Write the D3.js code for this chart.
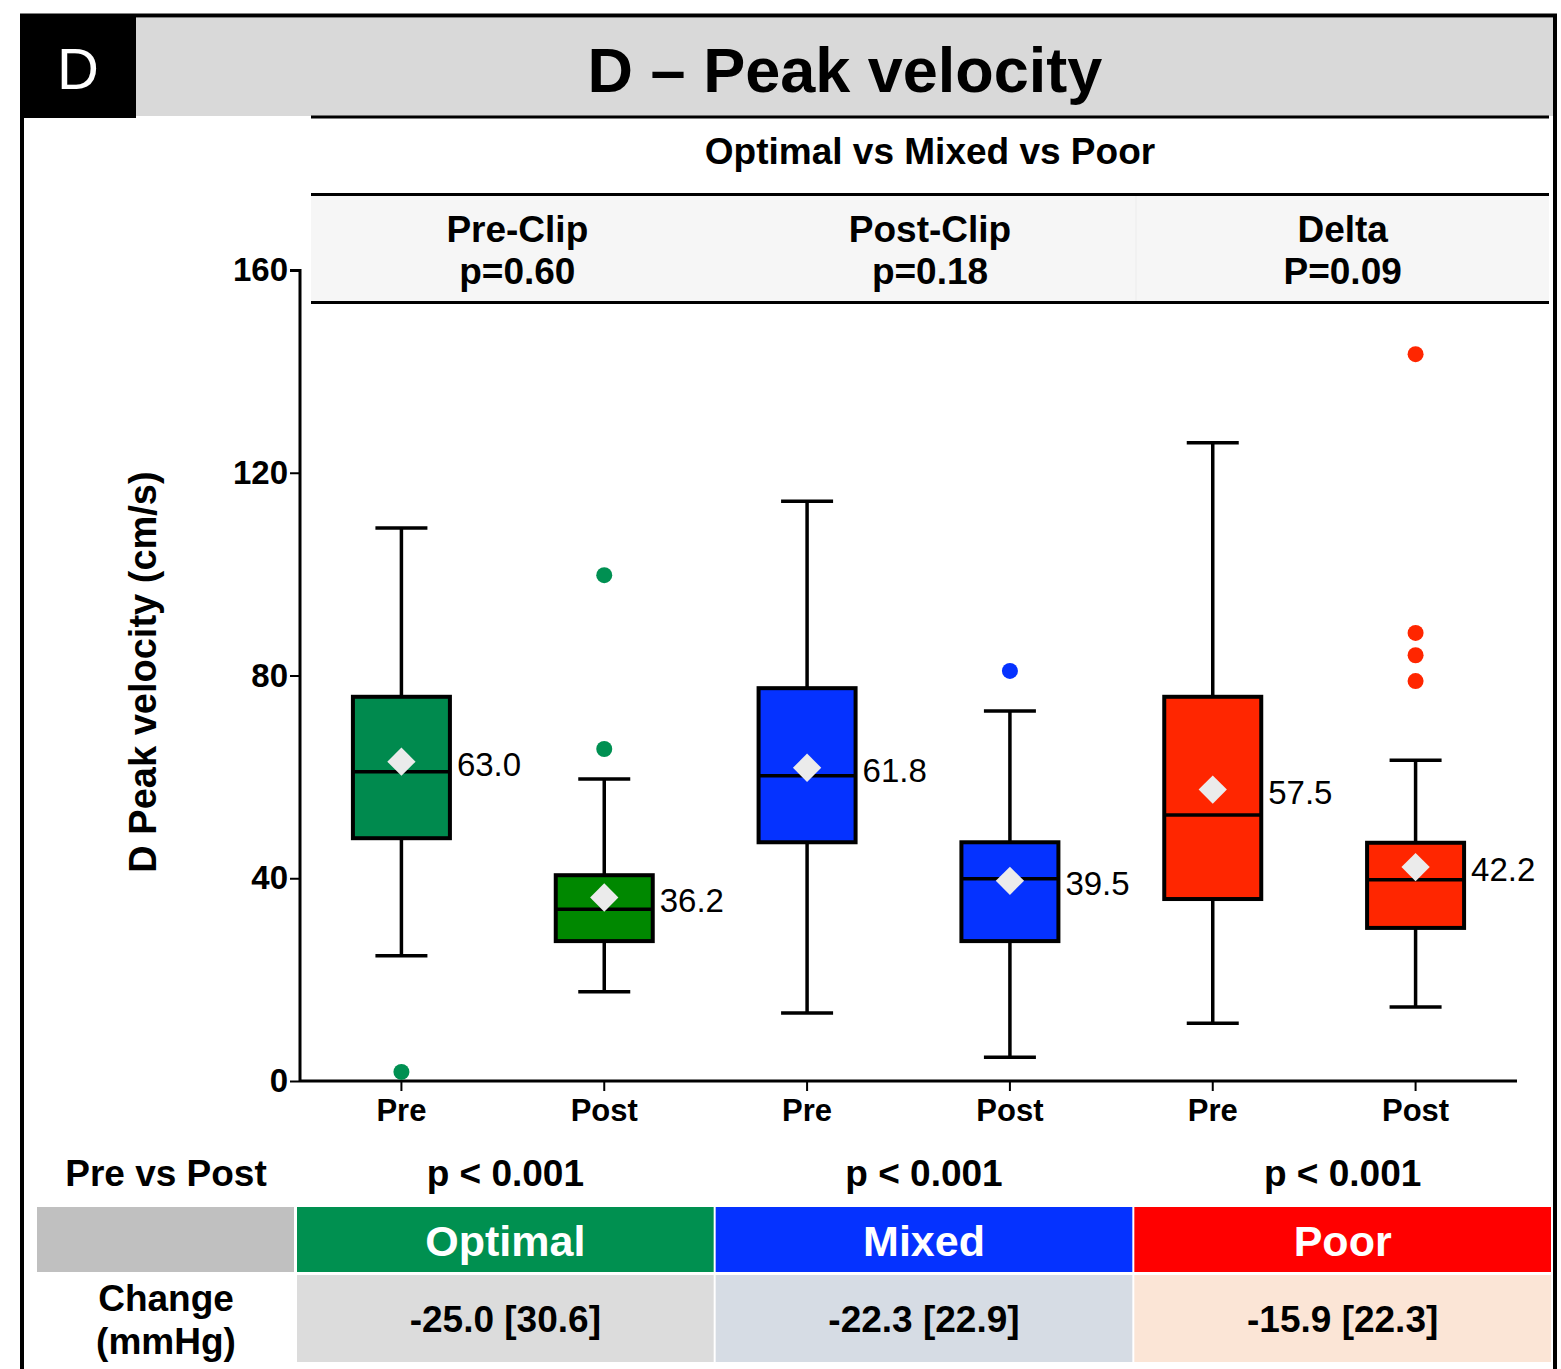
<!DOCTYPE html>
<html><head><meta charset="utf-8">
<script src="https://cdn.jsdelivr.net/npm/d3@7"></script>
<style>body{margin:0;background:#fff}svg{display:block}text{font-family:"Liberation Sans",Arial,sans-serif}</style>
</head><body>
<svg id="c" width="1561" height="1369"></svg>
<script>
const categories = ["OptPre","OptPost","MixPre","MixPost","PoorPre","PoorPost"];
const xLabels = ["Pre","Post","Pre","Post","Pre","Post"];
const whiskerLow = [24.7,17.6,13.4,4.7,11.4,14.6];
const q1 = [47.9,27.6,47.1,27.6,35.9,30.2];
const median = [61.0,33.9,60.2,39.9,52.5,39.7];
const q3 = [75.8,40.6,77.5,47.1,75.8,47.0];
const whiskerHigh = [109.1,59.6,114.4,73.0,125.9,63.3];
const means = [63.0,36.2,61.8,39.5,57.5,42.2];
const outliers = [[1.8],[99.8,65.5],[],[80.9],[],[143.4,88.4,84.0,78.9]];
const boxColors = ["#008a4e","#008800","#0532ff","#0532ff","#ff2600","#ff2600"];
const dotColors = ["#009052","#009052","#0532ff","#0532ff","#ff2600","#ff2600"];
const yTicks = [0,40,80,120,160];
const groupHeads = ["Pre-Clip","Post-Clip","Delta"];
const groupP = ["p=0.60","p=0.18","P=0.09"];
const prePostP = ["p < 0.001","p < 0.001","p < 0.001"];
const groups = ["Optimal","Mixed","Poor"];
const groupColors = ["#009050","#0532ff","#ff0000"];
const changeVals = ["-25.0 [30.6]","-22.3 [22.9]","-15.9 [22.3]"];
const changeBg = ["#dcdcdc","#d6dce4","#fbe5d6"];

const svg = d3.select("#c");
const F = '"Liberation Sans",Arial,sans-serif';

// frame
svg.append("rect").attr("x",136).attr("y",18).attr("width",1418).attr("height",98).attr("fill","#d9d9d9");
svg.append("rect").attr("x",20).attr("y",14).attr("width",116).attr("height",104).attr("fill","#000");
svg.append("line").attr("x1",20).attr("x2",1557).attr("y1",15.5).attr("y2",15.5).attr("stroke","#000").attr("stroke-width",4);
svg.append("line").attr("x1",22).attr("x2",22).attr("y1",14).attr("y2",1369).attr("stroke","#000").attr("stroke-width",4);
svg.append("line").attr("x1",1555).attr("x2",1555).attr("y1",14).attr("y2",1369).attr("stroke","#000").attr("stroke-width",4);
svg.append("text").attr("x",78).attr("y",89).attr("text-anchor","middle").attr("fill","#fff").attr("font-size",58).text("D");
svg.append("text").attr("x",845).attr("y",92).attr("text-anchor","middle").attr("font-weight","bold").attr("font-size",63).text("D \u2013 Peak velocity");

// header bands
svg.append("line").attr("x1",311).attr("x2",1549).attr("y1",117).attr("y2",117).attr("stroke","#000").attr("stroke-width",3);
svg.append("text").attr("x",930).attr("y",164).attr("text-anchor","middle").attr("font-weight","bold").attr("font-size",37).text("Optimal vs Mixed vs Poor");
svg.append("rect").attr("x",311).attr("y",195).attr("width",1238).attr("height",107).attr("fill","#f6f6f6");
svg.append("line").attr("x1",1136).attr("x2",1136).attr("y1",195).attr("y2",302).attr("stroke","#ececec").attr("stroke-width",1);
svg.append("line").attr("x1",311).attr("x2",1549).attr("y1",194.5).attr("y2",194.5).attr("stroke","#000").attr("stroke-width",3);
svg.append("line").attr("x1",311).attr("x2",1549).attr("y1",302.5).attr("y2",302.5).attr("stroke","#000").attr("stroke-width",3);
const hx = d3.scaleBand().domain(groupHeads).range([311,1549]);
groupHeads.forEach((g,i)=>{
  const cx = hx(g)+hx.bandwidth()/2;
  svg.append("text").attr("x",cx).attr("y",242).attr("text-anchor","middle").attr("font-weight","bold").attr("font-size",37).text(g);
  svg.append("text").attr("x",cx).attr("y",284).attr("text-anchor","middle").attr("font-weight","bold").attr("font-size",37).text(groupP[i]);
});

// scales
const y = d3.scaleLinear().domain([0,160]).range([1081,270]);
const x = d3.scaleBand().domain(categories).range([300,1517]);
const cx = c => x(c)+x.bandwidth()/2;

const yAxis = svg.append("g").attr("transform","translate(300,0)")
  .call(d3.axisLeft(y).tickValues(yTicks).tickSize(10).tickPadding(2));
yAxis.select(".domain").attr("stroke-width",3).attr("d","M-10,270.5H0V1081");
yAxis.selectAll(".tick line").attr("stroke-width",2);
yAxis.selectAll(".tick text").attr("font-family",F).attr("font-weight","bold").attr("font-size",33).attr("fill","#000");

const xAxis = svg.append("g").attr("transform","translate(0,1081)")
  .call(d3.axisBottom(x).tickSize(10).tickPadding(8).tickFormat((d,i)=>xLabels[i]));
xAxis.select(".domain").attr("stroke-width",3).attr("d","M300,0H1517");
xAxis.selectAll(".tick line").attr("stroke-width",2);
xAxis.selectAll(".tick text").attr("font-family",F).attr("font-weight","bold").attr("font-size",31).attr("fill","#000");

svg.append("text").attr("transform","translate(156,672) rotate(-90)").attr("text-anchor","middle")
  .attr("font-weight","bold").attr("font-size",38).text("D Peak velocity (cm/s)");

// boxes
const bw = 97, cap = 52;
categories.forEach((c,i)=>{
  const g = svg.append("g");
  const X = cx(c);
  g.append("line").attr("x1",X).attr("x2",X).attr("y1",y(whiskerHigh[i])).attr("y2",y(q3[i])).attr("stroke","#000").attr("stroke-width",3.5);
  g.append("line").attr("x1",X).attr("x2",X).attr("y1",y(q1[i])).attr("y2",y(whiskerLow[i])).attr("stroke","#000").attr("stroke-width",3.5);
  g.append("line").attr("x1",X-cap/2).attr("x2",X+cap/2).attr("y1",y(whiskerHigh[i])).attr("y2",y(whiskerHigh[i])).attr("stroke","#000").attr("stroke-width",3.5);
  g.append("line").attr("x1",X-cap/2).attr("x2",X+cap/2).attr("y1",y(whiskerLow[i])).attr("y2",y(whiskerLow[i])).attr("stroke","#000").attr("stroke-width",3.5);
  g.append("rect").attr("x",X-bw/2).attr("y",y(q3[i])).attr("width",bw).attr("height",y(q1[i])-y(q3[i]))
    .attr("fill",boxColors[i]).attr("stroke","#000").attr("stroke-width",4);
  g.append("line").attr("x1",X-bw/2).attr("x2",X+bw/2).attr("y1",y(median[i])).attr("y2",y(median[i])).attr("stroke","#000").attr("stroke-width",3.5);
  g.append("path").attr("d",d3.symbol(d3.symbolSquare, 400)())
    .attr("transform",`translate(${X},${y(means[i])}) rotate(45)`).attr("fill","#ebebeb");
  g.append("text").attr("x",X+bw/2+7).attr("y",y(means[i])+14).attr("font-size",33).text(means[i].toFixed(1));
  outliers[i].forEach(v=>{
    g.append("circle").attr("cx",X).attr("cy",y(v)).attr("r",8).attr("fill",dotColors[i]);
  });
});

// bottom table
svg.append("text").attr("x",166).attr("y",1186).attr("text-anchor","middle").attr("font-weight","bold").attr("font-size",37).text("Pre vs Post");
const tx = d3.scaleBand().domain(groups).range([296,1552]);
svg.append("rect").attr("x",37).attr("y",1207).attr("width",257).attr("height",65).attr("fill","#c0c0c0");
svg.append("text").attr("x",166).attr("y",1311).attr("text-anchor","middle").attr("font-weight","bold").attr("font-size",37).text("Change");
svg.append("text").attr("x",166).attr("y",1354).attr("text-anchor","middle").attr("font-weight","bold").attr("font-size",37).text("(mmHg)");
groups.forEach((g,i)=>{
  const x0 = tx(g)+1, w = tx.bandwidth()-2, c = tx(g)+tx.bandwidth()/2;
  svg.append("text").attr("x",c).attr("y",1186).attr("text-anchor","middle").attr("font-weight","bold").attr("font-size",37).text(prePostP[i]);
  svg.append("rect").attr("x",x0).attr("y",1207).attr("width",w).attr("height",65).attr("fill",groupColors[i]);
  svg.append("text").attr("x",c).attr("y",1256).attr("text-anchor","middle").attr("font-weight","bold").attr("font-size",43).attr("fill","#fff").text(g);
  svg.append("rect").attr("x",x0).attr("y",1275).attr("width",w).attr("height",87).attr("fill",changeBg[i]);
  svg.append("text").attr("x",c).attr("y",1332).attr("text-anchor","middle").attr("font-weight","bold").attr("font-size",37).text(changeVals[i]);
});
</script>
</body></html>
